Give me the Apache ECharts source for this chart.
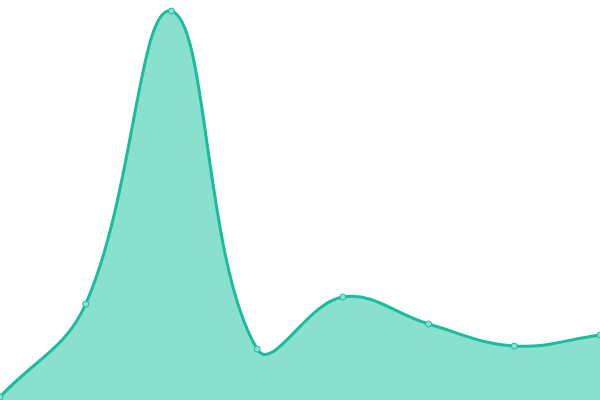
<!DOCTYPE html>
<html>
<head>
<meta charset="utf-8">
<script src="https://cdn.jsdelivr.net/npm/echarts@6/dist/echarts.min.js"></script>
<style>
  html, body { margin: 0; padding: 0; background: #fff; }
  #chart { width: 600px; height: 400px; }
</style>
</head>
<body>
<div id="chart"></div>
<script>
// values (y scale 0..400)
const categories = ['1', '2', '3', '4', '5', '6', '7', '8'];
const values = [3, 96, 389, 51, 103, 76, 54, 65];

const lineColor = '#1abc9c';
const fillColor = '#8ae0cf';
const tension = 0.4;

// cardinal spline control points (no clamping at local extremes)
function splinePath(pts) {
    let d = 'M' + pts[0][0] + ',' + pts[0][1];
    const cps = pts.map((p, i) => {
        const prev = pts[i - 1] || p;
        const next = pts[i + 1] || p;
        const d01 = Math.hypot(p[0] - prev[0], p[1] - prev[1]);
        const d12 = Math.hypot(next[0] - p[0], next[1] - p[1]);
        let s01 = d01 / (d01 + d12);
        let s12 = d12 / (d01 + d12);
        if (isNaN(s01)) s01 = 0;
        if (isNaN(s12)) s12 = 0;
        const fa = tension * s01, fb = tension * s12;
        return {
            prev: [p[0] - fa * (next[0] - prev[0]), p[1] - fa * (next[1] - prev[1])],
            next: [p[0] + fb * (next[0] - prev[0]), p[1] + fb * (next[1] - prev[1])]
        };
    });
    for (let i = 1; i < pts.length; i++) {
        const c1 = cps[i - 1].next, c2 = cps[i].prev, p = pts[i];
        d += 'C' + c1[0] + ',' + c1[1] + ' ' + c2[0] + ',' + c2[1] + ' ' + p[0] + ',' + p[1];
    }
    return d;
}

function renderItem(params, api) {
    const pt = api.coord([api.value(0), api.value(1)]);
    const children = [];
    if (params.dataIndex === 0) {
        const pts = values.map((v, i) => api.coord([i, v]));
        const line = splinePath(pts);
        const base = api.coord([0, 0])[1];
        const last = pts[pts.length - 1];
        children.push({
            type: 'path',
            shape: {pathData: line + 'L' + last[0] + ',' + base + 'L' + pts[0][0] + ',' + base + 'Z'},
            style: {fill: fillColor, stroke: null}
        });
        children.push({
            type: 'path',
            shape: {pathData: line},
            style: {fill: null, stroke: lineColor, lineWidth: 3}
        });
    }
    return {type: 'group', children: children};
}

function renderSymbol(params, api) {
    const pt = api.coord([api.value(0), api.value(1)]);
    return {
        type: 'circle',
        shape: {cx: pt[0], cy: pt[1], r: 3},
        style: {fill: fillColor, stroke: lineColor, lineWidth: 1}
    };
}

const chart = echarts.init(document.getElementById('chart'), null, {renderer: 'canvas'});
chart.setOption({
    animation: false,
    grid: {left: 0, right: 0, top: 0, bottom: 0},
    xAxis: {
        type: 'category',
        data: categories,
        boundaryGap: false,
        show: false
    },
    yAxis: {
        type: 'value',
        min: 0,
        max: 400,
        show: false
    },
    series: [{
        type: 'custom',
        renderItem: renderItem,
        data: values.map((v, i) => [i, v]),
        clip: false,
        z: 1
    }, {
        type: 'custom',
        renderItem: renderSymbol,
        data: values.map((v, i) => [i, v]),
        z: 2
    }]
});
</script>
</body>
</html>
